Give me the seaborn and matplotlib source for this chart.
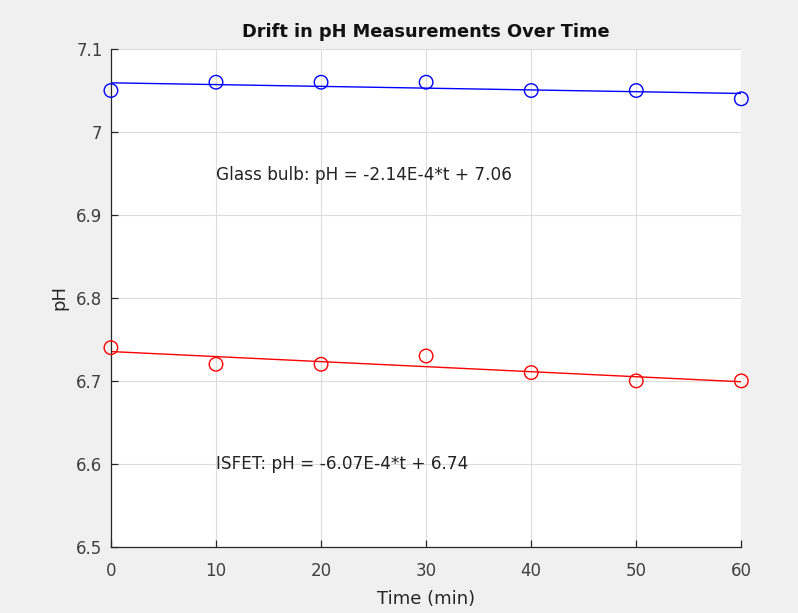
import numpy as np
import pandas as pd
import matplotlib
matplotlib.use("Agg")
import matplotlib.pyplot as plt
import seaborn as sns

# Measured data
time_min = [0, 10, 20, 30, 40, 50, 60]
glass_ph = [7.05, 7.06, 7.06, 7.06, 7.05, 7.05, 7.04]
isfet_ph = [6.74, 6.72, 6.72, 6.73, 6.71, 6.70, 6.70]

sns.set_style("white")
plt.rcParams['font.family'] = ['DejaVu Sans']

fig = plt.figure(figsize=(7.98, 6.13), dpi=100, facecolor='#f0f0f0')
ax = fig.add_axes([0.139, 0.108, 0.79, 0.812])
ax.set_facecolor('white')

t = np.array(time_min)
df = pd.DataFrame({'t': t, 'glass': glass_ph, 'isfet': isfet_ph})

# linear fits
pg = np.polyfit(t, glass_ph, 1)
pi = np.polyfit(t, isfet_ph, 1)
df['glass_fit'] = np.polyval(pg, t)
df['isfet_fit'] = np.polyval(pi, t)

for col, fit, c in [('glass', 'glass_fit', '#0000ff'), ('isfet', 'isfet_fit', '#ff0000')]:
    sns.scatterplot(data=df, x='t', y=col, ax=ax, marker='o', s=95,
                    facecolors='none', edgecolor=c, linewidth=1.0, zorder=3,
                    clip_on=False)
    sns.lineplot(data=df, x='t', y=fit, ax=ax, color=c, linewidth=1.0, zorder=2)

ax.text(10, 6.948, f"Glass bulb: pH = {pg[0]*1e4:.2f}E-4*t + {pg[1]:.2f}",
        fontsize=12.2, va='center', ha='left', color='#222222')
ax.text(10, 6.6, f"ISFET: pH = {pi[0]*1e4:.2f}E-4*t + {pi[1]:.2f}",
        fontsize=12.2, va='center', ha='left', color='#222222')

ax.set_xlim(0, 60)
ax.set_ylim(6.5, 7.1)
ax.set_xticks(time_min)
ax.set_yticks([6.5, 6.6, 6.7, 6.8, 6.9, 7.0, 7.1])
ax.set_yticklabels(['6.5', '6.6', '6.7', '6.8', '6.9', '7', '7.1'])
ax.grid(True, color='#dcdcdc', linewidth=0.8)
ax.set_axisbelow(True)
for s in ['top', 'right']:
    ax.spines[s].set_visible(False)
for s in ['left', 'bottom']:
    ax.spines[s].set_color('#262626')
    ax.spines[s].set_linewidth(0.9)
ax.tick_params(direction='in', length=5, width=0.9, colors='#262626',
               labelsize=12, left=True, bottom=True, labelcolor='#404040')
ax.tick_params(axis='x', pad=11)
ax.tick_params(axis='y', pad=6)

ax.set_xlabel('Time (min)', fontsize=13, color='#262626', labelpad=7)
ax.set_ylabel('pH', fontsize=13, color='#262626', labelpad=6)
ax.set_title('Drift in pH Measurements Over Time', fontsize=12.8,
             fontweight='bold', color='#111111', pad=9)

fig.savefig('out.png', dpi=100, facecolor=fig.get_facecolor())
